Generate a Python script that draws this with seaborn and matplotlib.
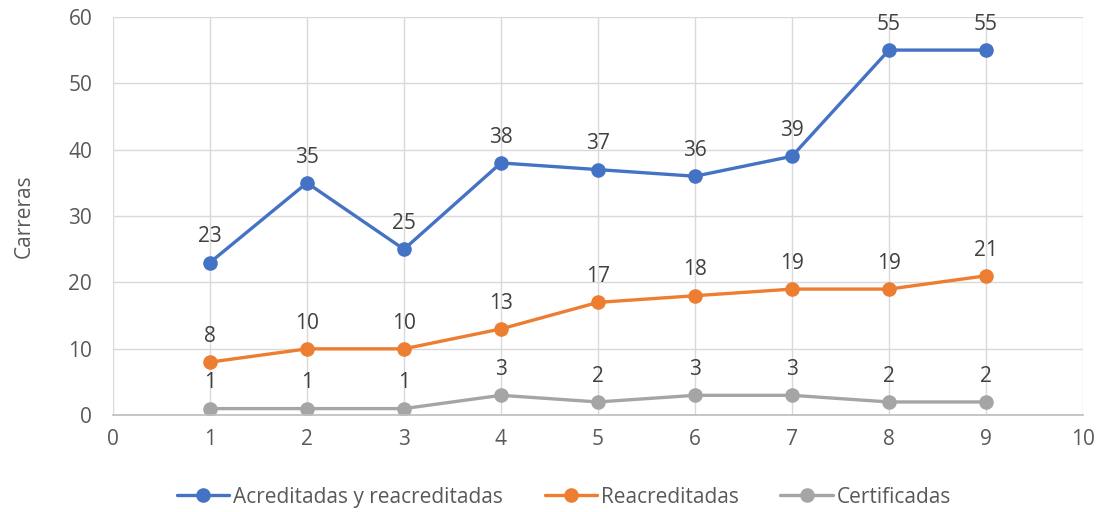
import seaborn as sns
import pandas as pd
import matplotlib.pyplot as plt

x_vals = [1, 2, 3, 4, 5, 6, 7, 8, 9]
acreditadas = [23, 35, 25, 38, 37, 36, 39, 55, 55]
reacreditadas = [8, 10, 10, 13, 17, 18, 19, 19, 21]
certificadas = [1, 1, 1, 3, 2, 3, 3, 2, 2]
series_names = ['Acreditadas y reacreditadas', 'Reacreditadas', 'Certificadas']
colores = ['#4472C4', '#ED7D31', '#A5A5A5']

df = pd.DataFrame({
    'x': x_vals * 3,
    'valor': acreditadas + reacreditadas + certificadas,
    'serie': [s for s in series_names for _ in x_vals],
})

sns.set_theme(style='white')
plt.rcParams['font.family'] = ['Open Sans', 'DejaVu Sans']

fig = plt.figure(figsize=(11.01, 5.12), dpi=100)
ax = fig.add_axes([0.1026, 0.189, 0.881, 0.778])

sns.lineplot(data=df, x='x', y='valor', hue='serie', palette=colores,
             marker='o', markersize=10.5, markeredgewidth=0, linewidth=2.4,
             ax=ax, legend=True)

# etiquetas de datos
for _, row in df.iterrows():
    ax.annotate(str(row['valor']), (row['x'], row['valor']), textcoords='offset points',
                xytext=(0, 11), ha='center', va='bottom', fontsize=15, color='#404040')

ax.set_xlim(0, 10)
ax.set_ylim(0, 60)
ax.set_xticks(range(0, 11))
ax.set_yticks(range(0, 61, 10))
ax.grid(True, color='#D9D9D9', linewidth=1)
ax.set_axisbelow(True)
for s in ['top', 'right', 'left']:
    ax.spines[s].set_visible(False)
ax.spines['bottom'].set_color('#BFBFBF')
ax.tick_params(axis='both', labelsize=15, labelcolor='#595959', length=0)
ax.tick_params(axis='y', pad=15)
ax.tick_params(axis='x', pad=10)
ax.set_xlabel('')
ax.set_ylabel('Carreras', fontsize=15, color='#595959')
ax.yaxis.set_label_coords(-0.081, 0.5)

handles, labels = ax.get_legend_handles_labels()
ax.legend(handles, labels, loc='center', bbox_to_anchor=(0.465, -0.206), ncol=3,
          frameon=False, fontsize=15, labelcolor='#595959', handlelength=2.5,
          columnspacing=2.0, handletextpad=0.2)

fig.savefig('out.png', dpi=100)
